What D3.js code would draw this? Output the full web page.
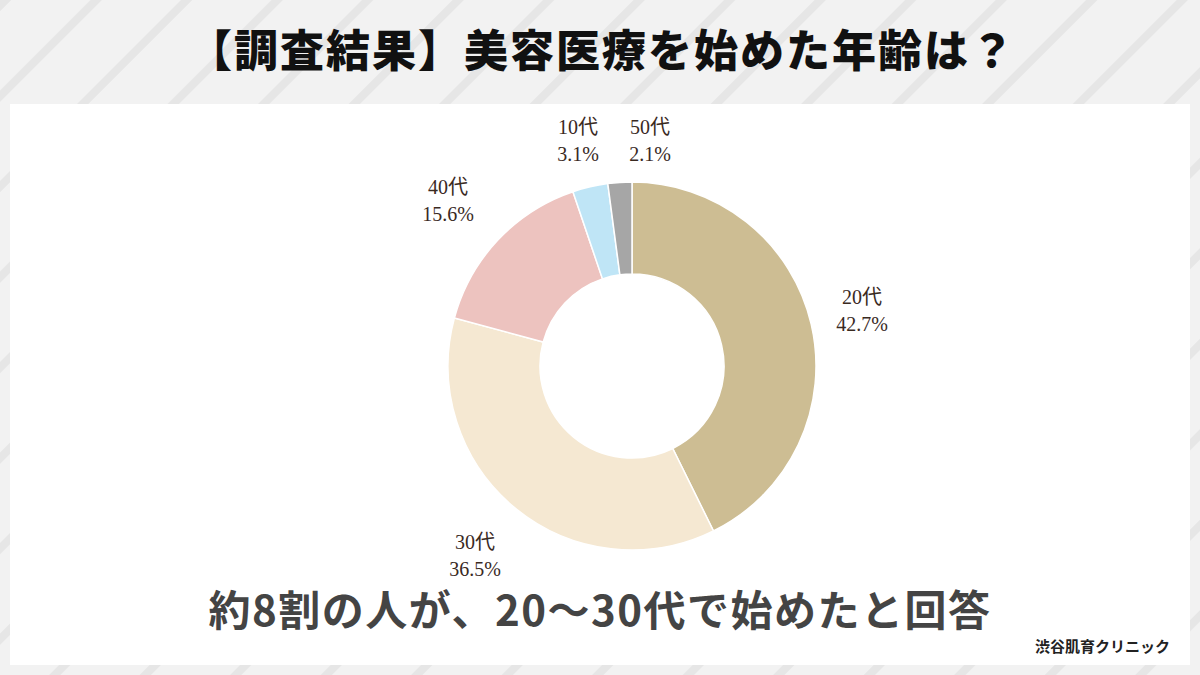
<!DOCTYPE html><html><head><meta charset="utf-8"><script src="https://cdn.jsdelivr.net/npm/d3@7"></script>
<style>body{margin:0}svg{display:block}</style></head><body><svg id="c" width="1200" height="675"></svg><script>
const categories=["20代","30代","40代","10代","50代"];
const values=[42.7,36.5,15.6,3.1,2.1];
const colors=["#cdbd93","#f5e8d2","#edc3bf","#bfe5f6","#a6a6a6"];
const title="【調査結果】美容医療を始めた年齢は？";
const subtitle="約8割の人が、20〜30代で始めたと回答";
const credit="渋谷肌育クリニック";
const svg=d3.select("#c");
const defs=svg.append("defs");
const pat=defs.append("pattern").attr("id","st").attr("patternUnits","userSpaceOnUse").attr("width",64).attr("height",64).attr("patternTransform","rotate(-45)");
pat.append("rect").attr("width",64).attr("height",64).attr("fill","#f2f2f2");
pat.append("rect").attr("width",64).attr("height",8).attr("fill","#e6e6e6");
svg.append("rect").attr("width",1200).attr("height",675).attr("fill","url(#st)");
svg.append("rect").attr("x",10).attr("y",104).attr("width",1180).attr("height",561).attr("fill","#fff");
svg.append("text").attr("x",602).attr("y",67).attr("text-anchor","middle").attr("font-family","Noto Sans CJK JP").attr("font-weight",900).attr("font-size",44).attr("letter-spacing",2).attr("fill","#111").text(title);
const cx=632,cy=366,R=184,r=92;
const pie=d3.pie().sort(null).value(d=>d)(values);
const arc=d3.arc().innerRadius(r).outerRadius(R);
const g=svg.append("g").attr("transform",`translate(${cx},${cy})`);
g.selectAll("path").data(pie).join("path").attr("d",arc).attr("fill",(d,i)=>colors[i]).attr("stroke","#fff").attr("stroke-width",1.5);
const labelPos=[[862,310],[475,555],[448,200],[578,140],[650,140]];
labelPos.forEach((p,i)=>{const t=svg.append("text").attr("text-anchor","middle").attr("font-family","Liberation Serif, Noto Sans CJK JP").attr("font-size",20).attr("fill","#3a2a1f");
t.append("tspan").attr("x",p[0]).attr("y",p[1]-6).text(categories[i]);
t.append("tspan").attr("x",p[0]).attr("y",p[1]+21).text(values[i].toFixed(1)+"%");});
svg.append("text").attr("x",600).attr("y",626).attr("text-anchor","middle").attr("font-family","Noto Sans CJK JP").attr("font-weight",700).attr("font-size",42).attr("letter-spacing",1.5).attr("fill","#444").text(subtitle);
svg.append("text").attr("x",1170).attr("y",652).attr("text-anchor","end").attr("font-family","Noto Sans CJK JP").attr("font-weight",700).attr("font-size",15).attr("fill","#222").text(credit);
</script></body></html>
